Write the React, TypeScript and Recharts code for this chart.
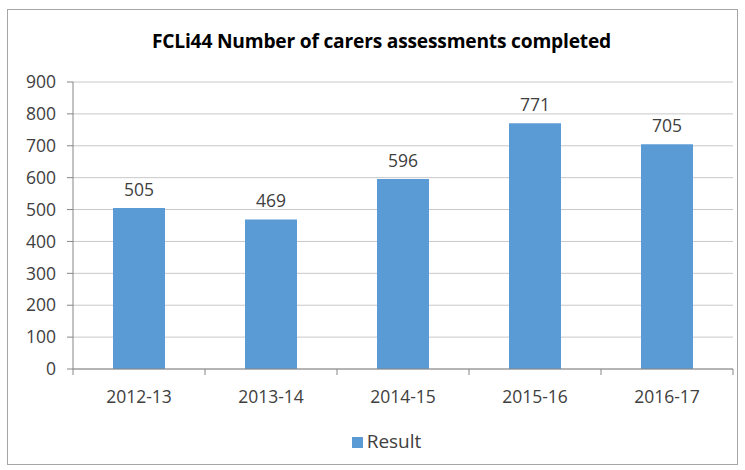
import { BarChart, Bar, XAxis, YAxis, CartesianGrid, LabelList, Legend } from 'recharts'

const years = ['2012-13', '2013-14', '2014-15', '2015-16', '2016-17']
const results = [505, 469, 596, 771, 705]
const yTicks = [0, 100, 200, 300, 400, 500, 600, 700, 800, 900]

const data = years.map((year, i) => ({ year, Result: results[i] }))

const FONT = '"Open Sans", "Noto Sans", sans-serif'
const TEXT = '#404040'
const BLUE = '#5B9BD5'
const SIZE = 17.5

function YearTick(props: any) {
  const { x, y, payload, index } = props
  const half = payload.offset || 66
  return (
    <g>
      <line x1={x - half} y1={y} x2={x - half} y2={y + 6} stroke="#868686" />
      {index === years.length - 1 && (
        <line x1={x + half} y1={y} x2={x + half} y2={y + 6} stroke="#868686" />
      )}
      <text x={x} y={y + 34} textAnchor="middle" fill={TEXT} fontSize={SIZE} fontFamily={FONT}>
        {payload.value}
      </text>
    </g>
  )
}

function ResultLegend() {
  return (
    <div
      style={{
        display: 'flex',
        justifyContent: 'center',
        alignItems: 'center',
        height: 22,
        paddingLeft: 40,
        fontFamily: FONT,
        fontSize: 19,
        lineHeight: '22px',
        color: TEXT,
      }}
    >
      <span style={{ width: 11, height: 11, background: BLUE, marginRight: 4, marginTop: 2 }} />
      <span>Result</span>
    </div>
  )
}

export default function App() {
  return (
    <div style={{ position: 'absolute', left: 0, top: 0, width: 745, height: 470, background: '#fff' }}>
      <div
        style={{
          position: 'absolute',
          left: 7,
          top: 9,
          width: 731,
          height: 456,
          border: '1px solid #a6a6a6',
          boxSizing: 'border-box',
        }}
      />
      <div
        style={{
          position: 'absolute',
          left: 9,
          top: 27,
          width: 745,
          textAlign: 'center',
          fontFamily: FONT,
          fontWeight: 'bold',
          fontSize: 19.2,
          color: '#000',
          letterSpacing: -0.2,
        }}
      >
        FCLi44 Number of carers assessments completed
      </div>
      <div style={{ position: 'absolute', left: 0, top: 0 }}>
        <BarChart
          width={745}
          height={470}
          data={data}
          margin={{ top: 82, right: 12, left: 0, bottom: 18 }}
          barSize={52}
        >
          <CartesianGrid vertical={false} stroke="#c8c8c8" />
          <XAxis
            dataKey="year"
            axisLine={{ stroke: '#868686' }}
            tickLine={false}
            tickSize={0}
            tickMargin={0}
            height={61}
            tick={<YearTick />}
            interval={0}
          />
          <YAxis
            width={73}
            domain={[0, 900]}
            ticks={yTicks}
            axisLine={{ stroke: '#868686' }}
            tickLine={{ stroke: '#868686' }}
            tickSize={6}
            tickMargin={11}
            tick={{ fill: TEXT, fontSize: SIZE, fontFamily: FONT }}
          />
          <Legend verticalAlign="bottom" content={<ResultLegend />} />
          <Bar dataKey="Result" fill={BLUE} isAnimationActive={false}>
            <LabelList
              dataKey="Result"
              position="top"
              offset={12}
              fill={TEXT}
              fontSize={SIZE}
              fontFamily={FONT}
            />
          </Bar>
        </BarChart>
      </div>
    </div>
  )
}
